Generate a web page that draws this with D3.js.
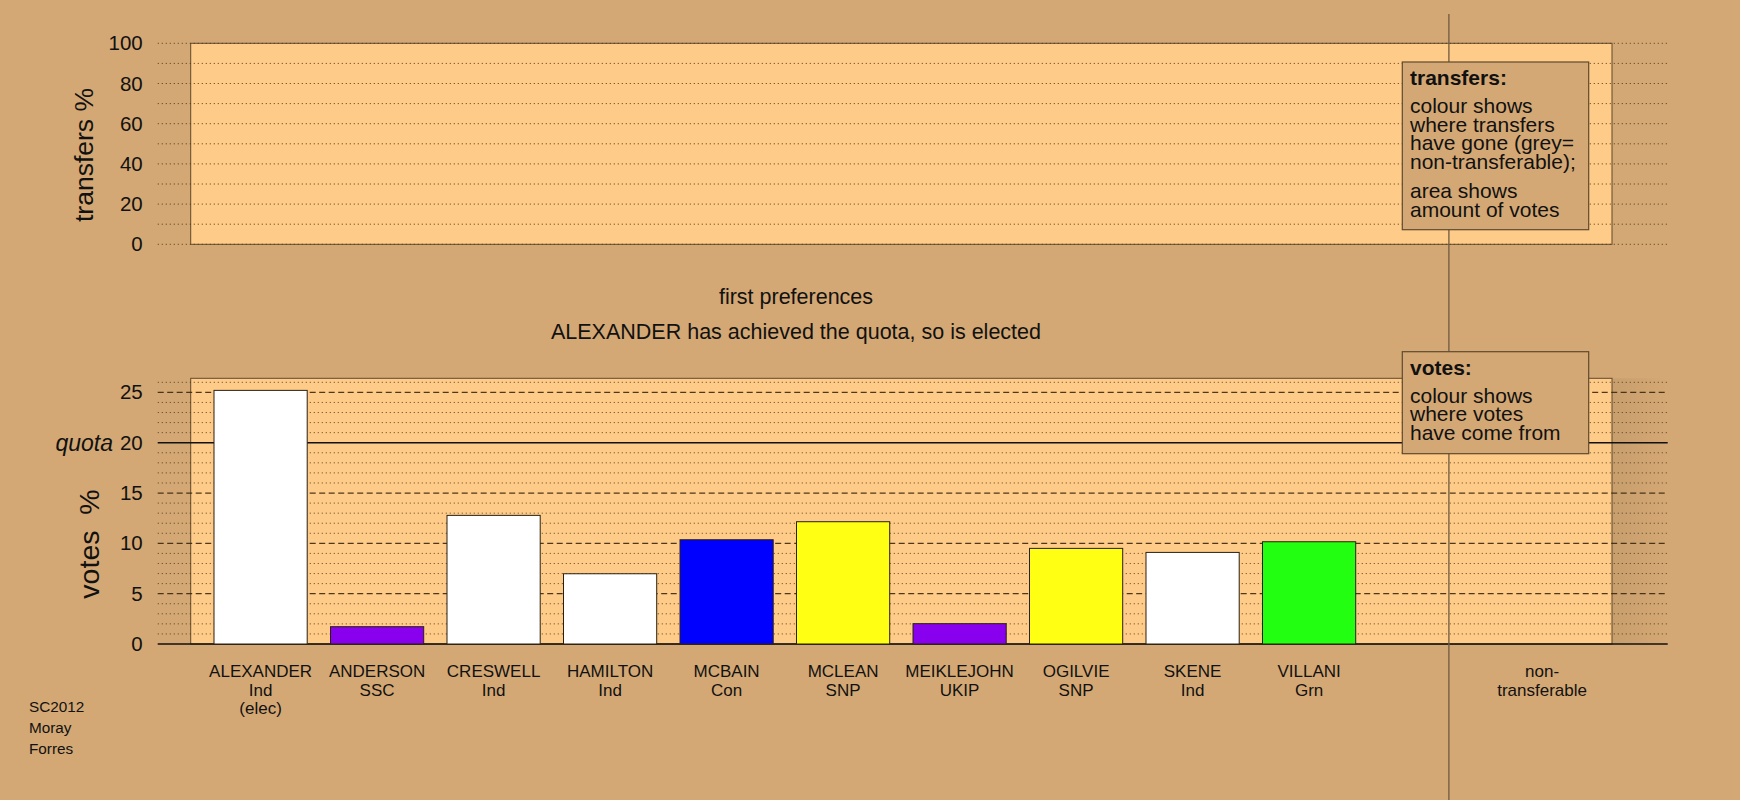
<!DOCTYPE html>
<html>
<head>
<meta charset="utf-8">
<script src="https://cdn.jsdelivr.net/npm/d3@7"></script>
<style>
  html, body { margin: 0; padding: 0; background: #D4A874; }
  svg { display: block; }
  text { font-family: "Liberation Sans", Arial, sans-serif; fill: #111; }
</style>
</head>
<body>
<svg id="chart" width="1740" height="800"></svg>
<script>
// ---------- data ----------
const candidates = ["ALEXANDER", "ANDERSON", "CRESWELL", "HAMILTON", "MCBAIN", "MCLEAN", "MEIKLEJOHN", "OGILVIE", "SKENE", "VILLANI"];
const parties    = ["Ind", "SSC", "Ind", "Ind", "Con", "SNP", "UKIP", "SNP", "Ind", "Grn"];
const notes      = ["(elec)", "", "", "", "", "", "", "", "", ""];
const votesPct   = [25.2, 1.72, 12.78, 6.98, 10.36, 12.15, 2.02, 9.5, 9.1, 10.16];
const quota      = 20;
const transferTicks = [0, 20, 40, 60, 80, 100];
const voteTicks     = [0, 5, 10, 15, 20, 25];
const partyColour = { Ind: "#FFFFFF", SSC: "#8800EE", Con: "#0000FF", SNP: "#FFFF14", UKIP: "#8800EE", Grn: "#22FF11" };
const titleLines = ["first preferences", "ALEXANDER has achieved the quota, so is elected"];
const corner = ["SC2012", "Moray", "Forres"];

// ---------- layout ----------
const BG = "#D4A874", PANEL = "#FFCB88", EDGE = "#5E4A30";
const svg = d3.select("#chart");
svg.append("rect").attr("width", 1740).attr("height", 800).attr("fill", BG);

const defs = svg.append("defs");
const grad = defs.append("linearGradient").attr("id", "shadow").attr("x1", "0").attr("x2", "1");
grad.append("stop").attr("offset", "0").attr("stop-color", "#000").attr("stop-opacity", 0.06);
grad.append("stop").attr("offset", "1").attr("stop-color", "#000").attr("stop-opacity", 0);

const x = d3.scaleLinear().domain([0, 15.25]).range([190.7, 1612]);
const gx0 = 157.7, gx1 = 1667.7;
const yT = d3.scaleLinear().domain([0, 100]).range([244.3, 43.3]);
const yV = d3.scaleLinear().domain([0, 26.4]).range([644, 378.3]);

// ---------- top panel (transfers) ----------
svg.append("rect")
  .attr("x", x(0)).attr("y", yT(100))
  .attr("width", x(15.25) - x(0)).attr("height", yT(0) - yT(100))
  .attr("fill", PANEL).attr("stroke", EDGE).attr("stroke-width", 1);

svg.append("g").selectAll("line").data(d3.range(0, 101, 10)).join("line")
  .attr("x1", gx0).attr("x2", gx1)
  .attr("y1", d => yT(d)).attr("y2", d => yT(d))
  .attr("stroke", "#4a3518").attr("stroke-opacity", 0.75)
  .attr("stroke-width", 1).attr("stroke-dasharray", "1.3,2.7");

const axT = svg.append("g").attr("transform", `translate(${gx0},0)`)
  .call(d3.axisLeft(yT).tickValues(transferTicks).tickSize(0).tickPadding(15));
axT.select(".domain").remove();
axT.selectAll("text").attr("font-size", 20.5).attr("fill", "#111")
  .style("font-family", '"Liberation Sans", Arial, sans-serif');

svg.append("text").attr("transform", `translate(93,155) rotate(-90)`)
  .attr("text-anchor", "middle").attr("font-size", 26.5).text("transfers %");

// ---------- lower panel (votes) ----------
svg.append("rect")
  .attr("x", x(15.25)).attr("y", yV(26.4))
  .attr("width", gx1 - x(15.25)).attr("height", yV(0) - yV(26.4))
  .attr("fill", "url(#shadow)");
svg.append("rect")
  .attr("x", x(0)).attr("y", yV(26.4))
  .attr("width", x(15.25) - x(0)).attr("height", yV(0) - yV(26.4))
  .attr("fill", PANEL).attr("stroke", EDGE).attr("stroke-width", 1);

const minor = d3.range(1, 27).filter(v => v % 5 !== 0);
svg.append("g").selectAll("line").data(minor).join("line")
  .attr("x1", gx0).attr("x2", gx1)
  .attr("y1", d => yV(d)).attr("y2", d => yV(d))
  .attr("stroke", "#4a3518").attr("stroke-opacity", 0.7)
  .attr("stroke-width", 1).attr("stroke-dasharray", "1.3,2.7");
svg.append("g").selectAll("line").data([5, 10, 15, 25]).join("line")
  .attr("x1", gx0).attr("x2", gx1)
  .attr("y1", d => yV(d)).attr("y2", d => yV(d))
  .attr("stroke", "#3a2810").attr("stroke-opacity", 0.9)
  .attr("stroke-width", 1.2).attr("stroke-dasharray", "6,3.5");
svg.append("g").selectAll("line").data([quota, 0]).join("line")
  .attr("x1", gx0).attr("x2", gx1)
  .attr("y1", d => yV(d)).attr("y2", d => yV(d))
  .attr("stroke", "#111").attr("stroke-width", 1.6);

// bars
svg.append("g").selectAll("rect").data(votesPct).join("rect")
  .attr("x", (d, i) => x(0.25 + 1.25 * i))
  .attr("width", x(1) - x(0))
  .attr("y", d => yV(d))
  .attr("height", d => yV(0) - yV(d))
  .attr("fill", (d, i) => partyColour[parties[i]])
  .attr("stroke", "#2a2010").attr("stroke-width", 1);

const axV = svg.append("g").attr("transform", `translate(${gx0},0)`)
  .call(d3.axisLeft(yV).tickValues(voteTicks).tickSize(0).tickPadding(15));
axV.select(".domain").remove();
axV.selectAll("text").attr("font-size", 20.5).attr("fill", "#111")
  .style("font-family", '"Liberation Sans", Arial, sans-serif');

svg.append("text").attr("x", 113).attr("y", yV(quota)).attr("dy", "0.36em")
  .attr("text-anchor", "end").attr("font-size", 23).attr("font-style", "italic").text("quota");

svg.append("text").attr("transform", `translate(99,544) rotate(-90)`)
  .attr("text-anchor", "middle").attr("font-size", 28.5)
  .attr("xml:space", "preserve").style("white-space", "pre").text("votes  %");

// candidate labels
const lab = svg.append("g").attr("font-size", 17).attr("text-anchor", "middle");
candidates.forEach((c, i) => {
  const cx = x(0.75 + 1.25 * i);
  const t = lab.append("text").attr("x", cx).attr("y", 676.5);
  t.append("tspan").attr("x", cx).text(c);
  t.append("tspan").attr("x", cx).attr("dy", 19).text(parties[i]);
  if (notes[i]) t.append("tspan").attr("x", cx).attr("dy", 18).text(notes[i]);
});
const nt = lab.append("text").attr("x", x(14.5)).attr("y", 676.5);
nt.append("tspan").attr("x", x(14.5)).text("non-");
nt.append("tspan").attr("x", x(14.5)).attr("dy", 19.5).text("transferable");

// separator line
svg.append("line").attr("x1", x(13.5)).attr("x2", x(13.5)).attr("y1", 14).attr("y2", 800)
  .attr("stroke", "#6E5A40").attr("stroke-width", 1.3);

// titles
svg.append("text").attr("x", 796).attr("y", 304).attr("text-anchor", "middle").attr("font-size", 21.5).text(titleLines[0]);
svg.append("text").attr("x", 796).attr("y", 338.5).attr("text-anchor", "middle").attr("font-size", 21.5).text(titleLines[1]);

// corner labels
svg.append("g").attr("font-size", 15.3).selectAll("text").data(corner).join("text")
  .attr("x", 29).attr("y", (d, i) => 712 + i * 21).text(d => d);

// legend boxes
function legend(y0, y1, head, groups) {
  svg.append("rect").attr("x", 1402.3).attr("y", y0).attr("width", 186.4).attr("height", y1 - y0)
    .attr("fill", BG).attr("stroke", EDGE).attr("stroke-width", 1.2);
  let yy = y0 + 23;
  svg.append("text").attr("x", 1410).attr("y", yy).attr("font-size", 21).attr("font-weight", "bold").text(head);
  yy += 28;
  groups.forEach(g => {
    g.forEach(line => {
      svg.append("text").attr("x", 1410).attr("y", yy).attr("font-size", 21).text(line);
      yy += 18.7;
    });
    yy += 10.3;
  });
}
legend(62, 229.7, "transfers:", [["colour shows", "where transfers", "have gone (grey=", "non-transferable);"], ["area shows", "amount of votes"]]);
legend(351.7, 453.7, "votes:", [["colour shows", "where votes", "have come from"]]);
</script>
</body>
</html>
